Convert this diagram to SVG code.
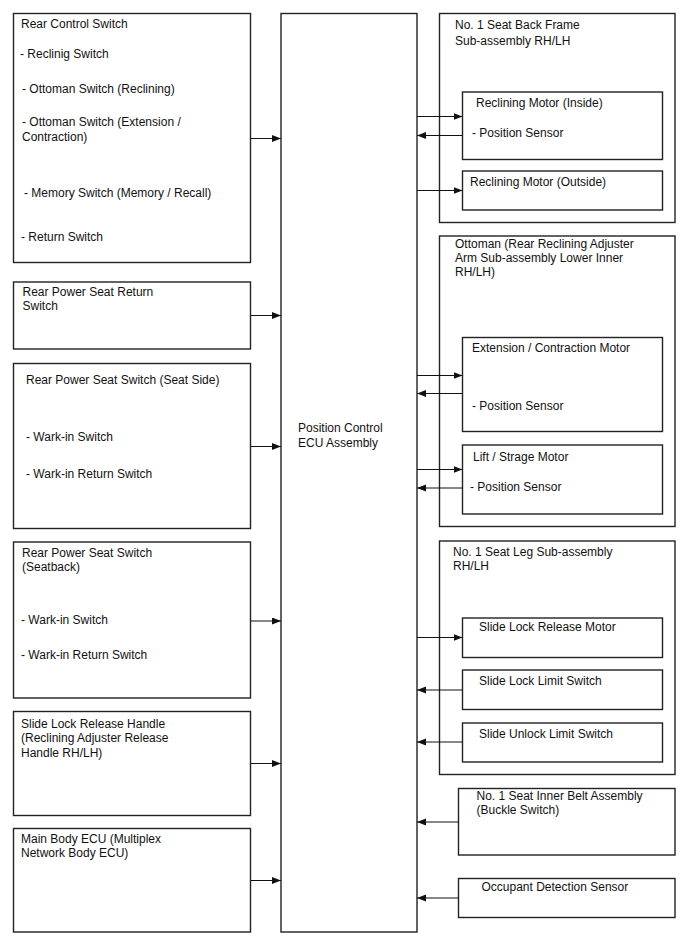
<svg xmlns="http://www.w3.org/2000/svg" width="688" height="949" viewBox="0 0 688 949">
<style>
.box{fill:#fff;stroke:#222;stroke-width:1.4}
.inner{fill:none;stroke:#222;stroke-width:1.4}
.c{stroke:#111;stroke-width:1;fill:none;marker-end:url(#ah)}
text{font-family:"Liberation Sans",Arial,sans-serif;font-size:12px;fill:#111}
</style>
<defs>
<marker id="ah" markerWidth="10" markerHeight="8" refX="9" refY="3.5" orient="auto" markerUnits="userSpaceOnUse">
<path d="M0,0 L9,3.5 L0,7 z" fill="#111"/>
</marker>
</defs>
<rect width="688" height="949" fill="#fff"/>

<g id="rear-control-switch">
<rect class="box" x="13.5" y="13.5" width="237" height="249"/>
<text x="21" y="28">Rear Control Switch</text>
<text x="20" y="58">- Reclinig Switch</text>
<text x="22" y="93">- Ottoman Switch (Reclining)</text>
<text x="22" y="126">- Ottoman Switch (Extension /</text>
<text x="22" y="141">Contraction)</text>
<text x="24" y="197">- Memory Switch (Memory / Recall)</text>
<text x="21" y="241">- Return Switch</text>
</g>

<g id="rear-power-seat-return-switch">
<rect class="box" x="13.5" y="282" width="237" height="67"/>
<text x="22.5" y="296">Rear Power Seat Return</text>
<text x="22.5" y="310">Switch</text>
</g>

<g id="rear-power-seat-switch-seat-side">
<rect class="box" x="13.5" y="363.5" width="237" height="165"/>
<text x="26" y="384">Rear Power Seat Switch (Seat Side)</text>
<text x="26" y="441">- Wark-in Switch</text>
<text x="26" y="478">- Wark-in Return Switch</text>
</g>

<g id="rear-power-seat-switch-seatback">
<rect class="box" x="13.5" y="542" width="237" height="156"/>
<text x="22" y="557">Rear Power Seat Switch</text>
<text x="22" y="571">(Seatback)</text>
<text x="21" y="624">- Wark-in Switch</text>
<text x="21" y="659">- Wark-in Return Switch</text>
</g>

<g id="slide-lock-release-handle">
<rect class="box" x="13.5" y="711.5" width="237" height="104"/>
<text x="21" y="728">Slide Lock Release Handle</text>
<text x="21" y="742">(Reclining Adjuster Release</text>
<text x="21" y="757">Handle RH/LH)</text>
</g>

<g id="main-body-ecu">
<rect class="box" x="13.5" y="828.5" width="237" height="103.5"/>
<text x="21" y="843">Main Body ECU (Multiplex</text>
<text x="21" y="857">Network Body ECU)</text>
</g>

<g id="position-control-ecu">
<rect class="box" x="281" y="13.5" width="136" height="918.5"/>
<text x="298" y="432">Position Control</text>
<text x="298" y="447">ECU Assembly</text>
</g>

<g id="seat-back-frame">
<rect class="box" x="439.5" y="13.5" width="235.5" height="209"/>
<text x="455" y="29">No. 1 Seat Back Frame</text>
<text x="455" y="45">Sub-assembly RH/LH</text>
</g>
<g id="reclining-motor-inside">
<rect class="inner" x="462.5" y="92" width="200" height="67.5"/>
<text x="476" y="107">Reclining Motor (Inside)</text>
<text x="472" y="137">- Position Sensor</text>
</g>
<g id="reclining-motor-outside">
<rect class="inner" x="462.5" y="171" width="200" height="39"/>
<text x="470" y="186">Reclining Motor (Outside)</text>
</g>

<g id="ottoman">
<rect class="box" x="439.5" y="236" width="235.5" height="290.5"/>
<text x="455" y="248">Ottoman (Rear Reclining Adjuster</text>
<text x="455" y="262">Arm Sub-assembly Lower Inner</text>
<text x="455" y="276">RH/LH)</text>
</g>
<g id="extension-contraction-motor">
<rect class="inner" x="462.5" y="337.5" width="200" height="94"/>
<text x="472" y="352">Extension / Contraction Motor</text>
<text x="472" y="410">- Position Sensor</text>
</g>
<g id="lift-strage-motor">
<rect class="inner" x="462.5" y="445" width="200" height="69"/>
<text x="473" y="461">Lift / Strage Motor</text>
<text x="470" y="491">- Position Sensor</text>
</g>

<g id="seat-leg">
<rect class="box" x="439.5" y="541" width="235.5" height="233.5"/>
<text x="453" y="556">No. 1 Seat Leg Sub-assembly</text>
<text x="453" y="570">RH/LH</text>
</g>
<g id="slide-lock-release-motor">
<rect class="inner" x="462.5" y="618" width="200" height="39.5"/>
<text x="479" y="631">Slide Lock Release Motor</text>
</g>
<g id="slide-lock-limit-switch">
<rect class="inner" x="462.5" y="670" width="200" height="39.5"/>
<text x="479" y="685">Slide Lock Limit Switch</text>
</g>
<g id="slide-unlock-limit-switch">
<rect class="inner" x="462.5" y="723" width="200" height="39"/>
<text x="479" y="738">Slide Unlock Limit Switch</text>
</g>

<g id="inner-belt-assembly">
<rect class="box" x="458.5" y="788.5" width="216.5" height="66.5"/>
<text x="476.5" y="800">No. 1 Seat Inner Belt Assembly</text>
<text x="476.5" y="814">(Buckle Switch)</text>
</g>
<g id="occupant-detection-sensor">
<rect class="box" x="458.5" y="878.5" width="216.5" height="39"/>
<text x="481.5" y="891">Occupant Detection Sensor</text>
</g>

<g id="connectors">
<line class="c" x1="251" y1="138.5" x2="281" y2="138.5"/>
<line class="c" x1="251" y1="315.5" x2="281" y2="315.5"/>
<line class="c" x1="251" y1="446.5" x2="281" y2="446.5"/>
<line class="c" x1="251" y1="621" x2="281" y2="621"/>
<line class="c" x1="251" y1="763.5" x2="281" y2="763.5"/>
<line class="c" x1="251" y1="880.5" x2="281" y2="880.5"/>

<line class="c" x1="417" y1="116.5" x2="462.5" y2="116.5"/>
<line class="c" x1="462.5" y1="135.5" x2="417" y2="135.5"/>
<line class="c" x1="417" y1="190.5" x2="462.5" y2="190.5"/>
<line class="c" x1="417" y1="375.5" x2="462.5" y2="375.5"/>
<line class="c" x1="462.5" y1="393.5" x2="417" y2="393.5"/>
<line class="c" x1="417" y1="469.5" x2="462.5" y2="469.5"/>
<line class="c" x1="462.5" y1="488" x2="417" y2="488"/>
<line class="c" x1="417" y1="637.5" x2="462.5" y2="637.5"/>
<line class="c" x1="462.5" y1="690" x2="417" y2="690"/>
<line class="c" x1="462.5" y1="742" x2="417" y2="742"/>
<line class="c" x1="458.5" y1="822" x2="417" y2="822"/>
<line class="c" x1="458.5" y1="898" x2="417" y2="898"/>
</g>
</svg>
